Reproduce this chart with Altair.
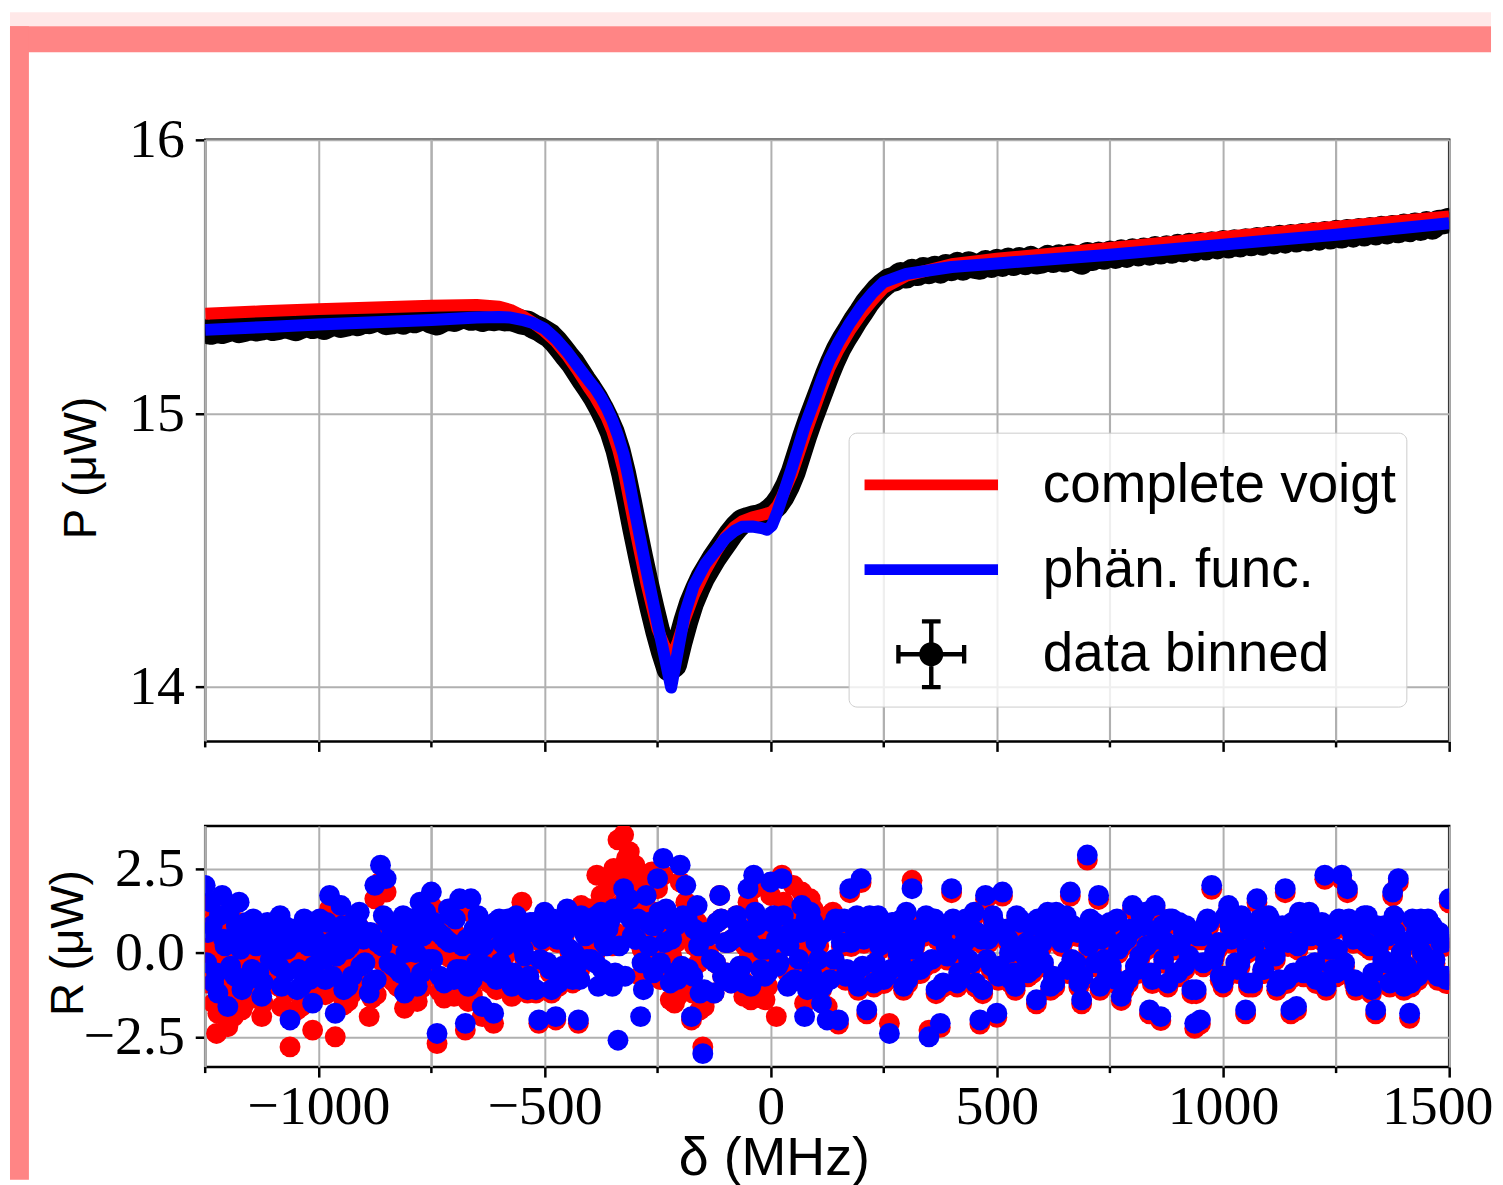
import altair as alt
import pandas as pd

# ---------------- data ----------------
delta_bins = [-1250 + 12.5 * i for i in range(221)]      # bin centres, MHz
delta_mid = [-1243.75 + 12.5 * i for i in range(220)]    # in-between bins (residual panel)
delta_q = [-1246.875 + 12.5 * i for i in range(220)]     # further bins (residual panel)

p_data = [
    15.300, 15.296, 15.303, 15.299, 15.305, 15.311, 15.302, 15.307, 15.315, 15.308,
    15.312, 15.318, 15.310, 15.314, 15.321, 15.316, 15.309, 15.318, 15.325, 15.317,
    15.322, 15.314, 15.324, 15.330, 15.321, 15.326, 15.333, 15.327, 15.338, 15.335,
    15.342, 15.345, 15.331, 15.334, 15.340, 15.333, 15.344, 15.338, 15.346, 15.349,
    15.336, 15.330, 15.341, 15.348, 15.343, 15.352, 15.355, 15.347, 15.351, 15.343,
    15.349, 15.346, 15.350, 15.345, 15.347, 15.340, 15.333, 15.330, 15.318, 15.309,
    15.296, 15.283, 15.262, 15.236, 15.209, 15.184, 15.152, 15.120, 15.090, 15.058,
    15.020, 14.978, 14.930, 14.865, 14.780, 14.680, 14.575, 14.475, 14.380, 14.290,
    14.205, 14.130, 14.065, 14.080, 14.165, 14.240, 14.305, 14.355, 14.400, 14.435,
    14.470, 14.500, 14.530, 14.560, 14.585, 14.605, 14.612, 14.618, 14.622, 14.630,
    14.645, 14.665, 14.695, 14.735, 14.785, 14.850, 14.915, 14.975, 15.030, 15.085,
    15.140, 15.190, 15.235, 15.272, 15.305, 15.340, 15.370, 15.402, 15.428, 15.452,
    15.471, 15.486, 15.492, 15.508, 15.502, 15.519, 15.511, 15.526, 15.518, 15.530,
    15.520, 15.537, 15.529, 15.544, 15.531, 15.547, 15.538, 15.534, 15.551, 15.541,
    15.556, 15.545, 15.560, 15.548, 15.562, 15.551, 15.566, 15.553, 15.557, 15.570,
    15.559, 15.572, 15.561, 15.575, 15.564, 15.552, 15.581, 15.567, 15.582, 15.571,
    15.586, 15.574, 15.590, 15.578, 15.594, 15.583, 15.597, 15.586, 15.602, 15.590,
    15.605, 15.593, 15.610, 15.598, 15.614, 15.601, 15.617, 15.605, 15.620, 15.609,
    15.624, 15.612, 15.627, 15.616, 15.631, 15.620, 15.635, 15.622, 15.639, 15.627,
    15.643, 15.630, 15.646, 15.634, 15.650, 15.638, 15.653, 15.641, 15.657, 15.645,
    15.661, 15.648, 15.665, 15.652, 15.668, 15.656, 15.672, 15.660, 15.676, 15.663,
    15.680, 15.667, 15.684, 15.672, 15.689, 15.676, 15.693, 15.681, 15.698, 15.700,
    15.706,
]

res_phaen = [
    2.0, 1.5, -0.6, 1.7, -1.6, 0.4, 1.5, -0.9, 0.7, 0.2,
    -1.3, 0.9, 0.5, -0.4, 0.8, -2.0, 0.3, -1.0, 0.6, -1.5,
    0.9, -0.2, 1.7, -1.8, 1.4, 0.1, -0.7, 0.8, 0.4, -1.2,
    2.0, 2.6, 2.2, 0.6, -0.5, 1.1, -0.9, 0.3, 1.5, 1.2,
    1.8, -2.4, 0.5, 1.3, -0.8, 1.6, -2.1, 1.6, -0.3, -1.6,
    0.7, -1.8, 1.0, 0.2, -0.6, 1.1, 0.5, -1.1, 0.9, -2.0,
    1.2, -0.5, -1.9, 0.4, 1.3, -0.8, -2.0, 0.6, 1.0, -0.3,
    1.2, 0.2, -1.0, -2.6, 1.9, 1.6, 0.4, -1.9, 1.7, 0.8,
    2.2, 2.8, 1.0, -0.6, 2.6, 2.0, -1.9, 1.4, -3.0, 0.5,
    -1.2, 1.7, 0.3, -0.9, 1.1, -0.4, 1.9, 2.3, 0.9, -0.7,
    2.1, 0.4, 2.2, -1.0, 0.7, -0.2, -1.9, 1.2, 0.3, -1.5,
    -2.0, 0.8, -2.0, 1.0, 1.9, -0.6, 2.2, -1.7, 0.5, 1.1,
    -0.8, -2.4, 0.9, -0.3, 1.2, 1.9, -0.5, 0.6, -2.5, 1.0,
    -2.1, 0.2, 1.9, -0.9, 0.7, -0.2, 1.2, -2.0, 1.7, -0.4,
    -1.8, 1.8, 0.4, -0.6, 1.0, -0.1, 0.8, -1.4, 0.3, 1.2,
    -0.7, 1.0, 0.5, 1.8, -0.3, -1.4, 2.9, 0.7, 1.7, -0.2,
    0.9, -0.8, -1.3, 0.4, 1.4, -0.5, 0.8, -1.7, 1.4, -1.9,
    0.3, 1.0, -0.6, 0.6, -0.1, -2.1, -2.0, 0.9, 2.0, 0.2,
    -0.9, 1.4, 0.5, -0.3, -1.7, 0.7, 1.6, -0.5, 1.1, 0.3,
    -0.8, 1.9, -1.7, -1.6, 0.6, 1.0, -0.4, 0.8, 2.3, 0.1,
    -0.6, 2.3, 1.9, 0.4, -0.9, 1.1, 0.2, -1.7, 0.7, -0.3,
    1.8, 2.2, -1.0, -1.8, 0.5, 1.0, -0.4, 0.8, -0.7, 0.3,
    1.6,
]

res_voigt = [
    1.4, 0.9, -2.4, 1.1, -2.2, -1.9, 0.9, -1.5, 0.1, -0.4,
    -1.9, 0.3, -0.1, -1.0, 0.2, -2.8, -0.3, -1.6, 0.0, -2.3,
    0.3, -0.7, 1.3, -2.5, 1.0, -0.4, -1.2, 0.4, 0.0, -1.9,
    1.6, 2.1, 1.8, 0.2, -1.0, 0.7, -1.4, -0.2, 1.1, 0.8,
    1.4, -2.7, 0.1, 0.9, -1.3, 1.2, -2.3, 1.2, -0.8, -1.9,
    0.4, -2.1, 0.7, -0.1, -0.9, 0.8, 1.5, -1.2, 0.8, -2.1,
    1.1, -0.6, -2.0, 0.3, 1.2, -0.9, -2.1, 0.9, 1.3, 0.0,
    1.7, 1.4, 0.2, 3.35, 3.5, 3.0, 2.6, -0.7, 2.1, 2.4,
    1.9, 2.3, -0.8, -1.5, 2.1, 1.5, -2.0, 0.9, -2.8, 0.0,
    -1.2, 1.7, 0.3, -0.9, 1.1, -0.8, 1.5, 1.9, 0.5, -1.4,
    1.7, -1.9, 2.3, -0.6, 2.0, 0.2, -1.5, 1.6, 0.7, -1.1,
    -1.6, 1.2, -2.12, 0.88, 1.78, -0.72, 2.08, -1.82, 0.38, 0.98,
    -0.92, -2.1, 0.78, -0.42, 1.08, 2.15, -0.62, 0.48, -2.3, 0.88,
    -2.22, 0.08, 1.78, -1.02, 0.58, -0.32, 1.08, -2.12, 1.58, -0.52,
    -1.92, 1.68, 0.28, -0.72, 0.88, -0.22, 0.68, -1.52, 0.18, 1.08,
    -0.82, 0.88, 0.38, 1.68, -0.42, -1.52, 2.75, 0.58, 1.58, -0.32,
    0.78, -0.92, -1.42, 0.28, 1.28, -0.62, 0.68, -1.82, 1.28, -2.02,
    0.18, 0.88, -0.72, 0.48, -0.22, -2.25, -2.12, 0.78, 1.88, 0.08,
    -1.02, 1.28, 0.38, -0.42, -1.82, 0.58, 1.48, -0.62, 0.98, 0.18,
    -0.92, 1.78, -1.82, -1.72, 0.48, 0.88, -0.52, 0.68, 2.18, -0.02,
    -0.72, 2.18, 1.78, 0.28, -1.02, 0.98, 0.08, -1.82, 0.58, -0.42,
    1.68, 2.08, -1.12, -1.95, 0.38, 0.88, -0.52, 0.68, -0.82, 0.18,
    1.48,
]

res_phaen_mid = [
    0.6, -0.9, 1.1, 0.2, -0.4, 0.8, -1.1, 0.3, 1.0, -0.6,
    0.5, -0.2, 0.9, -1.0, 0.1, 0.7, -0.5, 1.0, -0.8, 0.4,
    -0.1, 0.9, -0.7, 0.5, -1.1, 0.2, 1.0, -0.4, 0.6, -0.9,
    0.3, 1.1, -0.3, 0.8, -0.6, 0.0, 1.0, -1.0, 0.5, -0.2,
    0.9, -0.7, 0.4, 1.1, -0.5, 0.2, -1.0, 0.7, 0.1, -0.4,
    0.8, -0.8, 0.3, 1.0, -0.6, 0.5, -0.1, 0.9, -1.1, 0.4,
    -0.3, 1.0, -0.9, 0.6, 0.1, -0.5, 1.1, -0.2, 0.7, -1.0,
    0.3, 0.9, -0.6, 1.2, 1.6, 0.5, 1.0, -1.1, 0.2, 0.8,
    -0.3, 1.3, 0.4, -0.8, 1.1, -0.5, 0.7, -1.2, 0.6, -0.2,
    0.9, -0.7, 0.3, 1.0, -0.4, 0.6, -1.0, 0.8, 0.1, -0.6,
    1.1, -0.3, 0.5, -0.9, 0.7, 1.4, -1.1, 0.9, -0.2, 0.6,
    -0.8, 1.0, 0.3, -0.5, 0.8, -1.0, 0.4, 1.1, -0.3, 0.6,
    -0.7, 0.9, 0.0, -1.0, 0.7, 0.3, -0.5, 1.1, -0.2, 0.5,
    -0.9, 0.8, 0.1, -0.6, 1.0, -0.3, 0.6, -1.1, 0.4, 0.9,
    -0.4, 0.7, -0.8, 1.1, 0.2, -0.6, 0.9, -0.1, 0.5, -1.0,
    1.2, 0.3, -0.5, 0.8, -0.9, 0.6, 1.0, -0.3, 0.4, -0.7,
    0.9, 0.1, -1.0, 0.7, -0.4, 1.1, 0.2, -0.8, 0.6, -0.2,
    1.0, -0.6, 0.3, 0.8, -1.1, 0.5, -0.3, 0.9, 0.0, -0.7,
    1.1, 0.4, -0.5, 0.7, -0.9, 0.2, 1.0, -0.2, 0.6, -1.0,
    0.8, 0.3, -0.6, 1.2, -0.4, 0.5, -0.8, 0.9, 0.1, -0.5,
    1.0, -0.3, 0.7, -1.0, 0.4, 1.1, -0.6, 0.2, 0.8, -0.9,
    0.6, 0.0, -0.4, 1.0, -0.7, 0.5, 0.9, -0.2, 0.3, -0.8,
]

res_voigt_mid = [
    0.0, -1.5, 0.5, -0.4, -1.0, 0.2, -1.7, -0.3, 0.4, -1.2,
    -0.1, -0.8, 0.3, -1.6, -0.5, 0.1, -1.1, 0.4, -1.4, -0.2,
    -0.55, 0.45, -1.15, 0.05, -1.55, -0.25, 0.55, -0.85, 0.15, -1.35,
    -0.15, 0.65, -0.75, 0.35, -1.05, -0.45, 0.55, -1.45, 0.05, -0.65,
    0.45, -1.15, -0.05, 0.65, -0.95, -0.25, -1.45, 0.25, -0.2, -0.7,
    0.5, -1.1, 0.0, 0.7, -0.9, 0.4, -0.2, 0.8, -1.2, 0.3,
    -0.4, 0.9, -1.0, 0.5, 0.0, -0.6, 1.4, 0.1, 1.0, 0.2,
    1.5, 2.1, 0.6, 2.4, 2.8, 1.7, 2.2, -0.7, 0.6, 1.2,
    -0.8, 0.8, -0.1, -1.3, 0.6, -1.0, 0.2, -1.7, 0.1, -0.2,
    0.9, -0.7, 0.3, 1.0, -0.8, 0.2, -1.4, 0.4, -0.3, -1.0,
    0.7, 0.1, 0.9, -0.5, 1.1, 1.8, -0.7, 1.3, 0.2, 1.0,
    -0.4, 0.88, 0.18, -0.62, 0.68, -1.12, 0.28, 0.98, -0.42, 0.48,
    -0.82, 0.78, -0.12, -1.12, 0.58, 0.18, -0.62, 0.98, -0.32, 0.38,
    -1.02, 0.68, -0.02, -0.72, 0.88, -0.42, 0.48, -1.22, 0.28, 0.78,
    -0.52, 0.58, -0.92, 0.98, 0.08, -0.72, 0.78, -0.22, 0.38, -1.12,
    1.08, 0.18, -0.62, 0.68, -1.02, 0.48, 0.88, -0.42, 0.28, -0.82,
    0.78, -0.02, -1.12, 0.58, -0.52, 0.98, 0.08, -0.92, 0.48, -0.32,
    0.88, -0.72, 0.18, 0.68, -1.22, 0.38, -0.42, 0.78, -0.12, -0.82,
    0.98, 0.28, -0.62, 0.58, -1.02, 0.08, 0.88, -0.32, 0.48, -1.12,
    0.68, 0.18, -0.72, 1.08, -0.52, 0.38, -0.92, 0.78, -0.02, -0.62,
    0.88, -0.42, 0.58, -1.12, 0.28, 0.98, -0.72, 0.08, 0.68, -1.02,
    0.48, -0.12, -0.52, 0.88, -0.82, 0.38, 0.78, -0.32, 0.18, -0.92,
]

res_phaen_q = [
    -0.3, 0.8, -1.2, 0.4, 1.2, -0.7, 0.1, 0.9, -0.5, 0.3,
    -0.9, 0.6, 0.0, 1.1, -0.6, 0.4, -1.1, 0.7, 0.2, -0.4,
    1.0, -0.8, 0.3, -0.1, 0.8, -1.0, 0.5, 1.2, -0.3, 0.6,
    -0.8, 0.2, 0.9, -0.4, 0.5, -1.2, 0.7, 0.0, -0.6, 1.0,
    -0.2, 0.6, -0.9, 0.3, 1.0, -0.5, 0.4, -0.8, 1.1, 0.2,
    -0.6, 0.9, -0.3, 0.5, -1.0, 0.7, 0.1, -0.7, 0.6, -0.2,
    0.8, -1.1, 0.4, -0.4, 0.9, 0.0, -0.8, 0.5, -0.2, 1.1,
    -0.5, 0.7, 1.3, 0.2, -0.7, 1.0, 0.4, -0.3, 0.9, -0.6,
    1.2, 0.3, -0.9, 0.8, -0.4, 1.0, -0.7, 0.2, -1.1, 0.6,
    -0.3, 1.0, -0.6, 0.4, 0.8, -0.9, 0.3, 1.2, -0.5, 0.1,
    0.9, -0.4, 1.1, 0.2, -0.8, 0.6, 1.0, -0.6, 0.4, -1.0,
    0.7, -0.2, 0.9, -0.7, 0.3, 1.1, -0.4, 0.6, -0.9, 0.2,
    0.8, -0.5, 0.4, 1.0, -0.8, 0.1, 0.7, -0.3, 0.9, -1.1,
    0.5, -0.1, 1.0, -0.6, 0.3, 0.8, -0.9, 0.4, -0.2, 1.1,
    -0.7, 0.6, 0.0, -1.0, 0.9, 0.3, -0.5, 1.0, -0.3, 0.7,
    -0.9, 0.4, 1.1, -0.2, 0.6, -0.7, 0.2, 0.9, -1.0, 0.5,
    -0.4, 1.0, 0.3, -0.8, 0.7, -0.1, 1.2, -0.6, 0.4, 0.8,
    -0.9, 0.2, 0.9, -0.4, 0.6, -1.1, 0.5, 1.0, -0.2, 0.3,
    -0.7, 0.8, -0.3, 1.1, 0.1, -0.9, 0.6, -0.5, 1.0, -0.1,
    0.4, -0.8, 0.9, 0.2, -0.6, 1.2, -0.3, 0.5, -1.0, 0.7,
    0.1, -0.5, 1.0, -0.8, 0.6, 0.3, -1.1, 0.8, -0.2, 0.5,
    1.1, -0.6, 0.3, -0.9, 0.7, 0.0, 1.0, -0.4, 0.6, -0.7,
]

res_voigt_q = [
    -0.9, 0.2, -1.8, -0.2, 0.6, -1.3, -0.5, 0.3, -1.1, -0.3,
    -1.5, 0.0, -0.6, 0.5, -1.2, -0.2, -1.7, 0.1, -0.4, -1.0,
    0.55, -1.25, -0.15, -0.55, 0.35, -1.45, 0.05, 0.75, -0.75, 0.15,
    -1.25, -0.25, 0.45, -0.85, 0.05, -1.65, 0.25, -0.45, -1.05, 0.55,
    -0.65, 0.15, -1.35, -0.15, 0.55, -0.95, -0.05, -1.25, 0.8, -0.1,
    -0.9, 0.6, -0.6, 0.2, -1.3, 0.6, 0.0, -0.8, 0.5, -0.3,
    0.7, -1.2, 0.3, -0.5, 0.8, -0.1, -0.5, 0.8, 0.1, 2.3,
    0.7, 1.9, 2.5, 1.4, 0.5, 2.2, 1.6, 0.1, 1.3, -0.2,
    0.7, -0.2, -1.4, 0.3, -0.9, 0.5, -1.2, -0.3, -1.6, 0.6,
    -0.3, 1.0, -0.6, 0.4, 0.4, -1.3, -0.1, 0.8, -0.9, -0.3,
    0.5, 0.0, 1.5, 0.6, -0.4, 1.0, 1.4, -0.2, 0.8, -0.6,
    1.1, -0.32, 0.78, -0.82, 0.18, 0.98, -0.52, 0.48, -1.02, 0.08,
    0.68, -0.62, 0.28, 0.88, -0.92, -0.02, 0.58, -0.42, 0.78, -1.22,
    0.38, -0.22, 0.88, -0.72, 0.18, 0.68, -1.02, 0.28, -0.32, 0.98,
    -0.82, 0.48, -0.12, -1.12, 0.78, 0.18, -0.62, 0.88, -0.42, 0.58,
    -1.02, 0.28, 0.98, -0.32, 0.48, -0.82, 0.08, 0.78, -1.12, 0.38,
    -0.52, 0.88, 0.18, -0.92, 0.58, -0.22, 1.08, -0.72, 0.28, 0.68,
    -1.02, 0.08, 0.78, -0.52, 0.48, -1.22, 0.38, 0.88, -0.32, 0.18,
    -0.82, 0.68, -0.42, 0.98, -0.02, -1.02, 0.48, -0.62, 0.88, -0.22,
    0.28, -0.92, 0.78, 0.08, -0.72, 1.08, -0.42, 0.38, -1.12, 0.58,
    -0.02, -0.62, 0.88, -0.92, 0.48, 0.18, -1.22, 0.68, -0.32, 0.38,
    0.98, -0.72, 0.18, -1.02, 0.58, -0.12, 0.88, -0.52, 0.48, -0.82,
]

fit_delta = [-1250, -1125, -1000, -875, -750, -650, -600, -575, -550, -525,
             -500, -475, -450, -425, -400, -387.5, -375, -362.5, -350, -337.5,
             -325, -312.5, -300, -275, -250, -235, -220, -205, -190, -170,
             -144, -120, -100, -80, -63, -40, -20, -8, 3, 15,
             25, 47, 76, 95, 113, 130, 150, 175, 200, 225,
             250, 300, 400, 500, 750, 1000, 1250, 1500]
fit_phaen = [15.305, 15.315, 15.325, 15.333, 15.341, 15.350, 15.352, 15.350, 15.342, 15.330,
             15.310, 15.272, 15.225, 15.170, 15.115, 15.090, 15.058, 15.020, 14.975, 14.918,
             14.850, 14.750, 14.640, 14.430, 14.230, 14.115, 13.997, 14.130, 14.265, 14.370,
             14.450, 14.500, 14.543, 14.570, 14.585, 14.586, 14.580, 14.574, 14.590, 14.640,
             14.690, 14.800, 14.955, 15.040, 15.125, 15.195, 15.260, 15.330, 15.390, 15.440,
             15.480, 15.510, 15.535, 15.548, 15.580, 15.617, 15.653, 15.695]
fit_voigt = [15.364, 15.373, 15.381, 15.387, 15.393, 15.396, 15.390, 15.378, 15.357, 15.331,
             15.300, 15.262, 15.212, 15.152, 15.088, 15.058, 15.022, 14.985, 14.935, 14.870,
             14.790, 14.685, 14.580, 14.380, 14.210, 14.150, 14.100, 14.165, 14.245, 14.335,
             14.425, 14.495, 14.548, 14.585, 14.605, 14.620, 14.628, 14.633, 14.640, 14.662,
             14.695, 14.778, 14.920, 15.008, 15.092, 15.165, 15.232, 15.302, 15.362, 15.413,
             15.458, 15.503, 15.545, 15.565, 15.605, 15.645, 15.682, 15.720]

legend_labels = ["complete voigt", "phän. func.", "data binned"]
legend_colors = ["#ff0000", "#0000ff", "#000000"]

x_ticks = [-1250, -1000, -750, -500, -250, 0, 250, 500, 750, 1000, 1250, 1500]
x_minor = [-1250, -750, -250, 250, 750, 1250]
p_ticks = [14, 15, 16]
r_ticks = [-2.5, 0.0, 2.5]

assert len(p_data) == 221 and len(res_phaen) == 221 and len(res_voigt) == 221
assert len(res_phaen_mid) == 220 and len(res_voigt_mid) == 220
assert len(res_phaen_q) == 220 and len(res_voigt_q) == 220
assert len(fit_delta) == len(fit_phaen) == len(fit_voigt)

# ---------------- tables ----------------
bins_df = pd.DataFrame({"delta": delta_bins, "P": p_data})
res_df = pd.concat([
    pd.DataFrame({"delta": delta_bins, "R_voigt": res_voigt, "R_phaen": res_phaen}),
    pd.DataFrame({"delta": delta_mid, "R_voigt": res_voigt_mid, "R_phaen": res_phaen_mid}),
    pd.DataFrame({"delta": delta_q, "R_voigt": res_voigt_q, "R_phaen": res_phaen_q}),
], ignore_index=True)
fit_df = pd.DataFrame({"delta": fit_delta, "voigt": fit_voigt, "phaen": fit_phaen})
legend_df = pd.DataFrame({"series": legend_labels})
minor_df = pd.DataFrame({"delta": x_minor})
one_df = pd.DataFrame({"k": [0]})

# ---------------- layout / style ----------------
W, H_TOP, H_BOT, GAP = 1249, 604, 242, 85
SERIF = "Liberation Serif"
SANS = "Liberation Sans"
GRID = "#b0b0b0"

line_sym = "M-1,-0.08H1V0.08H-1Z"
err_sym = ("M-0.49,-0.033H0.49V0.033H-0.49Z "
           "M-0.033,-0.49H0.033V0.49H-0.033Z "
           "M-0.525,-0.14H-0.46V0.14H-0.525Z "
           "M0.46,-0.14H0.525V0.14H0.46Z "
           "M-0.14,-0.525H0.14V-0.46H-0.14Z "
           "M-0.14,0.46H0.14V0.525H-0.14Z "
           "M-0.18,0A0.18,0.18 0 1,1 0.18,0A0.18,0.18 0 1,1 -0.18,0Z")
legend_shapes = [line_sym, line_sym, err_sym]

x_scale = alt.Scale(domain=[-1250, 1500], nice=False, zero=False)
major_tick_color = {"condition": {"test": "datum.value % 500 === 0", "value": "black"},
                    "value": "transparent"}


def x_top():
    return alt.X("delta:Q", scale=x_scale,
                 axis=alt.Axis(values=x_ticks, labels=False, title=None, tickSize=10,
                               tickColor=major_tick_color))


def y_top(field):
    return alt.Y(f"{field}:Q", scale=alt.Scale(domain=[13.8, 16.0], nice=False, zero=False),
                 axis=alt.Axis(values=p_ticks, format="d", title="P (μW)", tickSize=10,
                               labelPadding=11, titleX=-124, titleY=329,
                               titleBaseline="middle", titleFontSize=46))


def x_bot():
    return alt.X("delta:Q", scale=x_scale,
                 axis=alt.Axis(values=x_ticks, tickSize=10, tickColor=major_tick_color,
                               labelExpr="datum.value % 500 === 0 ? format(datum.value, 'd') : ''",
                               labelPadding=3, labelFlush=True, labelFlushOffset=44,
                               title="δ (MHz)", titleFontSize=54, titleX=571, titleY=92,
                               titleBaseline="middle"))


def y_bot(field):
    return alt.Y(f"{field}:Q", scale=alt.Scale(domain=[-3.4, 3.76], nice=False, zero=False),
                 axis=alt.Axis(values=r_ticks, format=".1f", title="R (μW)", tickSize=10,
                               labelPadding=11, titleX=-137, titleY=117,
                               titleBaseline="middle", titleFontSize=46))


# decorative slide frame (outside the plot area)
def frame_rect(color, x0, x1, y0, y1):
    return alt.Chart(one_df).mark_rect(color=color, opacity=1).encode(
        x=alt.value(x0), x2=alt.value(x1), y=alt.value(y0), y2=alt.value(y1))


frame = [
    frame_rect("#ffe8e8", -196, 1291, -128, -114),
    frame_rect("#ff8585", -196, 1291, -114, -88),
    frame_rect("#ff8585", -196, -177, -114, 1044),
]

# ---------------- top panel ----------------
minor_top = alt.Chart(minor_df).mark_rule(color="black", strokeWidth=2.5).encode(
    x=x_top(), y=alt.value(H_TOP), y2=alt.value(H_TOP + 6))
minor_grid_top = alt.Chart(minor_df).mark_rule(color=GRID, strokeWidth=2).encode(
    x=x_top(), y=alt.value(0), y2=alt.value(H_TOP))

data_line = alt.Chart(bins_df).mark_line(color="black", strokeWidth=25, strokeJoin="round",
                                          strokeCap="round", clip=True).encode(
    x=x_top(), y=y_top("P"))
data_pts = alt.Chart(bins_df).mark_circle(color="black", size=520, opacity=1,
                                          clip=True).encode(x=x_top(), y=y_top("P"))
voigt_line = alt.Chart(fit_df).mark_line(color="#ff0000", strokeWidth=12, strokeJoin="round",
                                         clip=True).encode(x=x_top(), y=y_top("voigt"))
phaen_line = alt.Chart(fit_df).mark_line(color="#0000ff", strokeWidth=12, strokeJoin="round",
                                         clip=True).encode(x=x_top(), y=y_top("phaen"))

leg = dict(orient="none", legendX=646, legendY=294, title=None,
           labelFont=SANS, labelFontSize=55, labelColor="black", labelLimit=700,
           labelOffset=45, symbolSize=17956, symbolStrokeWidth=0, symbolOpacity=1,
           symbolOffset=6, clipHeight=85, rowPadding=0, padding=10,
           fillColor="rgba(255,255,255,0.8)", strokeColor="#cccccc", cornerRadius=8)

legend_layer = alt.Chart(legend_df).mark_point(filled=True, opacity=1).transform_filter(
    "false").encode(
    color=alt.Color("series:N", scale=alt.Scale(domain=legend_labels, range=legend_colors),
                    legend=alt.Legend(**leg)),
    shape=alt.Shape("series:N", scale=alt.Scale(domain=legend_labels, range=legend_shapes),
                    legend=alt.Legend(**leg)),
)

top = alt.layer(*frame, minor_grid_top, minor_top, data_line, data_pts, voigt_line, phaen_line,
                legend_layer).properties(width=W, height=H_TOP)

# ---------------- bottom panel ----------------
minor_bot = alt.Chart(minor_df).mark_rule(color="black", strokeWidth=2.5).encode(
    x=x_bot(), y=alt.value(H_BOT), y2=alt.value(H_BOT + 6))
minor_grid_bot = alt.Chart(minor_df).mark_rule(color=GRID, strokeWidth=2).encode(
    x=x_bot(), y=alt.value(0), y2=alt.value(H_BOT))
res_voigt_pts = alt.Chart(res_df).mark_circle(color="#ff0000", size=440, opacity=1,
                                              clip=True).encode(x=x_bot(), y=y_bot("R_voigt"))
res_phaen_pts = alt.Chart(res_df).mark_circle(color="#0000ff", size=440, opacity=1,
                                              clip=True).encode(x=x_bot(), y=y_bot("R_phaen"))

bottom = alt.layer(minor_grid_bot, minor_bot, res_voigt_pts, res_phaen_pts).properties(
    width=W, height=H_BOT)

chart = alt.vconcat(top, bottom, spacing=GAP, bounds="flush").properties(
    padding=0, background="white"
).configure_view(
    stroke="black", strokeWidth=2.5
).configure_axis(
    labelFont=SERIF, labelFontSize=56, labelColor="black",
    tickColor="black", tickWidth=2.5,
    grid=True, gridColor=GRID, gridWidth=2, domain=False,
    titleFont=SANS, titleColor="black", titleFontWeight="normal",
)

chart.save("out.html", embed_options={"renderer": "svg", "actions": False})
